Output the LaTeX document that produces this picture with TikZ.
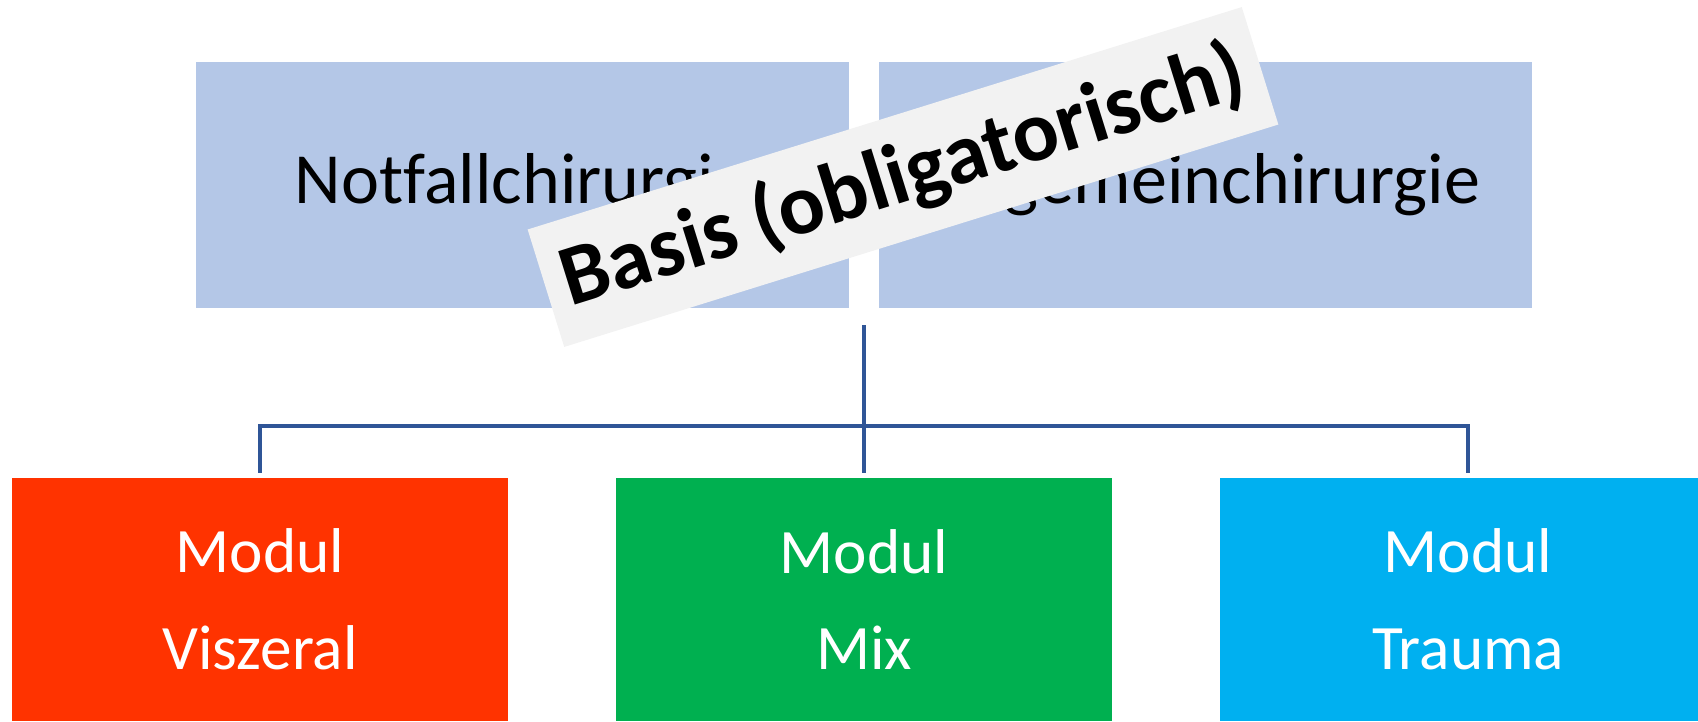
\documentclass[tikz,border=0pt]{standalone}
\usepackage{fontspec}
\setmainfont[Ligatures=NoCommon]{Carlito}
\usepackage{xcolor}
\usepackage{tikz}
\usetikzlibrary{calc}

\definecolor{basisblue}{HTML}{B4C7E7}
\definecolor{linkblue}{HTML}{2F5597}
\definecolor{viszred}{HTML}{FF3300}
\definecolor{mixgreen}{HTML}{00B050}
\definecolor{traumablue}{HTML}{00B0F0}
\definecolor{bannergray}{HTML}{F2F2F2}

\begin{document}
\begin{tikzpicture}[
    basisbox/.style={fill=basisblue, inner sep=0pt, minimum width=6.53cm, minimum height=2.46cm,
      font=\fontsize{20.5}{24}\selectfont},
    modulbox/.style={inner sep=0pt, minimum width=4.96cm, minimum height=2.43cm, text=white,
      align=center, font=\fontsize{18}{27.5}\selectfont},
    conn/.style={draw=linkblue, line width=1.1pt, shorten >=1.2pt}]
  \useasboundingbox (0,0) rectangle (16.98,7.21);
  \clip (0,0) rectangle (16.98,7.21);
  % basis row
  \node[basisbox] (notfall) at (5.225,5.36) {Notfallchirurgie};
  \node[basisbox] (allgemein) at (12.05,5.36) {Allgemeinchirurgie};
  % modules
  \node[modulbox, fill=viszred] (visz) at (2.60,1.215) {Modul\\Viszeral};
  \node[modulbox, fill=mixgreen] (mix) at (8.64,1.215) {Modul\\Mix};
  \node[modulbox, fill=traumablue] (trauma) at (14.68,1.215) {Modul\\Trauma};
  % connectors
  \coordinate (hub) at (8.64,3.96);
  \coordinate (fork) at (8.64,2.95);
  \draw[conn] (hub) -- (mix.north);
  \draw[conn] (fork) -| (visz.north);
  \draw[conn] (fork) -| (trauma.north);
  % banner
  \node[fill=bannergray, rotate=17.3, minimum width=7.48cm, minimum height=1.23cm,
    font=\bfseries\fontsize{24.5}{28}\selectfont] (banner) at (9.03,5.44) {Basis (obligatorisch)};
\end{tikzpicture}
\end{document}
